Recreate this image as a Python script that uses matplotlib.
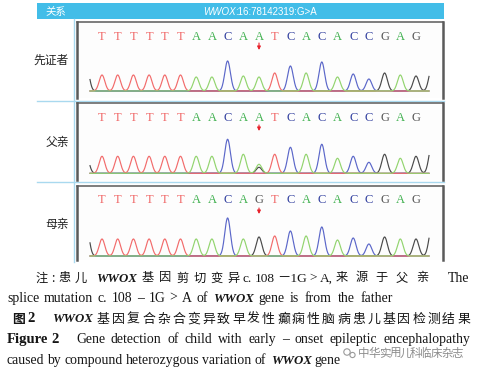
import numpy as np
import matplotlib
matplotlib.use("Agg")
import matplotlib.pyplot as plt
from matplotlib.patches import Rectangle, Circle

# ---------------- data ----------------
bases_proband = list("TTTTTTAACAATCACACCGAG")
heights_proband = [16, 16, 16, 16, 16, 16, 14, 14, 30, 15, 14, 18, 25, 18, 29, 14, 17, 12, 18, 16, 15]
bases_father = list("TTTTTTAACAATCACACCGAG")
heights_father = [17, 17, 17, 17, 17, 17, 17, 17, 34, 19, 9, 19, 26, 19, 29, 15, 17, 11, 19, 15, 17]
father_secondary = [(10, "G", 6)]
bases_mother = list("TTTTTTAACAGTCACACCGAG")
heights_mother = [17, 17, 17, 17, 17, 17, 17, 17, 38, 17, 19, 20, 25, 20, 29, 16, 18, 12, 19, 17, 17]
lead_G = [27, 18, 31]     # partial G peak before the first base
trail_G = [23, 28, 28]    # partial G peak after the last base
mutation_index = 10
row_labels = ["先证者", "父亲", "母亲"]
header_left = "关系"
header_gene = "WWOX"
header_pos = ":16:78142319:G>A"

trace_colors = {"T": "#f26b6b", "A": "#92d46e", "C": "#5b67c9", "G": "#4a4a4a"}
letter_colors = {"T": "#f06666", "A": "#3fb04e", "C": "#2f3d9e", "G": "#555555"}

W, H = 478, 374
fig = plt.figure(figsize=(W / 100, H / 100), dpi=100)
bg = fig.add_axes([0, 0, 1, 1])
bg.set_xlim(0, W)
bg.set_ylim(H, 0)
bg.axis("off")

renderer = fig.canvas.get_renderer()

# ---------------- frame ----------------
bg.add_patch(Rectangle((37, 3), 407, 16, color="#42bde8", lw=0))
bg.text(45, 11.5, header_left, color="white", fontsize=7.5, va="center", ha="left",
        family=["Noto Sans CJK SC"])
t1 = bg.text(0, 11.5, header_gene, color="white", fontsize=7, va="center", ha="left",
             style="italic", family=["Liberation Sans"])
t2 = bg.text(0, 11.5, header_pos, color="white", fontsize=7, va="center", ha="left",
             family=["Liberation Sans"])
w1 = t1.get_window_extent(renderer).width
w2 = t2.get_window_extent(renderer).width
hx = 260 - (w1 + w2) / 2
t1.set_x(hx)
t2.set_x(hx + w1)
bg.plot([74, 74], [19, 262], color="#a9d9ef", lw=1.0)
for yy in (101, 182):
    bg.plot([37, 444], [yy, yy], color="#a9d9ef", lw=1.0)

# ---------------- chromatogram panels ----------------
panels = [
    dict(top=22, bot=98, base=91, letters=37, arrow=(43, 50), label_y=60,
         bases=bases_proband, heights=heights_proband, extra=[]),
    dict(top=103, bot=180, base=173.3, letters=117.7, arrow=(125, 131), label_y=142,
         bases=bases_father, heights=heights_father, extra=father_secondary),
    dict(top=186, bot=260, base=256, letters=200, arrow=(208, 214), label_y=224,
         bases=bases_mother, heights=heights_mother, extra=[]),
]

x0_px, dx_px = 102.0, 15.7
px_left, px_right = 77, 443
xs = np.linspace((90 - x0_px) / dx_px, (429 - x0_px) / dx_px, 1200)
sigma = 0.18

for k, p in enumerate(panels):
    ax = fig.add_axes([px_left / W, 1 - p["bot"] / H, (px_right - px_left) / W,
                       (p["bot"] - p["top"]) / H])
    ax.set_xlim((px_left - x0_px) / dx_px, (px_right - x0_px) / dx_px)
    ax.set_ylim(p["base"] - p["bot"], p["base"] - p["top"])
    ax.set_xticks([])
    ax.set_yticks([])
    ax.set_facecolor("#fdfdfd")
    for s in ("left", "right"):
        ax.spines[s].set_color("#5a5a5a")
        ax.spines[s].set_linewidth(1.8)
    ax.spines["top"].set_color("#5a5a5a")
    ax.spines["top"].set_linewidth(1.1)
    ax.spines["bottom"].set_visible(False)

    peaks = [(i, b, h) for i, (b, h) in enumerate(zip(p["bases"], p["heights"]))]
    peaks += p["extra"]
    peaks += [(-1, "G", lead_G[k]), (len(p["bases"]), "G", trail_G[k])]
    for ch in ("G", "C", "T", "A"):
        y = np.zeros_like(xs)
        for i, b, h in peaks:
            if b == ch:
                y += h * np.exp(-(xs - i) ** 2 / (2 * sigma ** 2))
        ax.plot(xs, y, color=trace_colors[ch], lw=0.85, solid_joinstyle="miter")

    ly = p["base"] - p["letters"]
    for i, b in enumerate(p["bases"]):
        ax.text(i, ly, b, color=letter_colors[b], fontsize=9, ha="center", va="center",
                family=["Liberation Serif"])
    a0, a1 = p["arrow"]
    ax.annotate("", xy=(mutation_index, p["base"] - a1), xytext=(mutation_index, p["base"] - a0),
                arrowprops=dict(arrowstyle="-|>", color="#e8202a", lw=0.8,
                                mutation_scale=5, shrinkA=0, shrinkB=0))

    bg.text(69, p["label_y"], row_labels[k], fontsize=8.5, ha="right", va="center",
            family=["Noto Sans CJK SC"], color="#222222")

# ---------------- caption ----------------
SERIF = ["Liberation Serif", "Noto Sans CJK SC"]
CJK = ["Noto Sans CJK SC"]


def units_of(text):
    units, cur = [], ""
    for ch in text:
        if ch == " ":
            if cur:
                units.append(cur)
                cur = ""
        elif 0x4E00 <= ord(ch) <= 0x9FFF:
            if cur:
                units.append(cur)
                cur = ""
            units.append(ch)
        else:
            cur += ch
    if cur:
        units.append(cur)
    return units


def spread(text, x0, x1, y, **kw):
    units = units_of(text)
    objs = [bg.text(0, y, u, ha="left", va="baseline", **kw) for u in units]
    widths = [o.get_window_extent(renderer).width for o in objs]
    gap = (x1 - x0 - sum(widths)) / (len(units) - 1) if len(units) > 1 else 0
    x = x0
    for o, w in zip(objs, widths):
        o.set_x(x)
        x += w + gap


txt = dict(color="#151515")
bi = dict(family=["Liberation Serif"], weight="bold", style="italic", color="#151515")
EN = 9.9
WW = 9.3

# line 1
y = 281.5
spread("注:患儿", 35, 87, y, family=CJK, fontsize=8.8, **txt)
spread("WWOX", 96, 135, y, fontsize=WW, **bi)
spread("基因剪切变异", 142, 240, y, family=CJK, fontsize=8.8, **txt)
spread("c. 108 －1G > A,", 243, 333, y, family=SERIF, fontsize=9.6, **txt)
spread("来源于父亲", 336, 428, y, family=CJK, fontsize=8.8, **txt)
spread("The", 448, 470, y, family=SERIF, fontsize=EN, **txt)
# line 2
y = 301.7
spread("splice mutation c. 108 – 1G > A of", 7, 208, y, family=SERIF, fontsize=EN, **txt)
spread("WWOX", 213, 252, y, fontsize=WW, **bi)
spread("gene is from the father", 258, 393, y, family=SERIF, fontsize=EN, **txt)
# line 3
y = 322.5
spread("图", 12, 24, y, family=CJK, fontsize=9.3, weight="bold", **txt)
spread("2", 27, 35, y, family=["Liberation Serif"], fontsize=10.5, weight="bold", **txt)
spread("WWOX", 52, 91, y, fontsize=WW, **bi)
spread("基因复合杂合变异致早发性癫痫性脑病患儿基因检测结果", 97, 470, y, family=CJK, fontsize=9.3, **txt)
# line 4
y = 343
spread("Figure 2", 7, 59, y, family=["Liberation Serif"], fontsize=10.5, weight="bold", **txt)
spread("Gene detection of child with early – onset epileptic encephalopathy", 76, 470, y,
       family=SERIF, fontsize=EN, **txt)
# line 5
y = 364
spread("caused by compound heterozygous variation of", 7, 266, y, family=SERIF, fontsize=EN, **txt)
spread("WWOX", 271, 310, y, fontsize=WW, **bi)
spread("gene", 314, 341, y, family=SERIF, fontsize=EN, **txt)
# watermark
bg.add_patch(Circle((347, 352), 3.2, fill=False, ec="#9a9a9a", lw=0.8))
bg.add_patch(Circle((352.5, 355), 2.6, fill=False, ec="#9a9a9a", lw=0.8))
spread("中华实用儿科临床杂志", 358, 463, 357, family=CJK, fontsize=8.3, color="#8c8c8c")

fig.savefig("out.png", dpi=100)
